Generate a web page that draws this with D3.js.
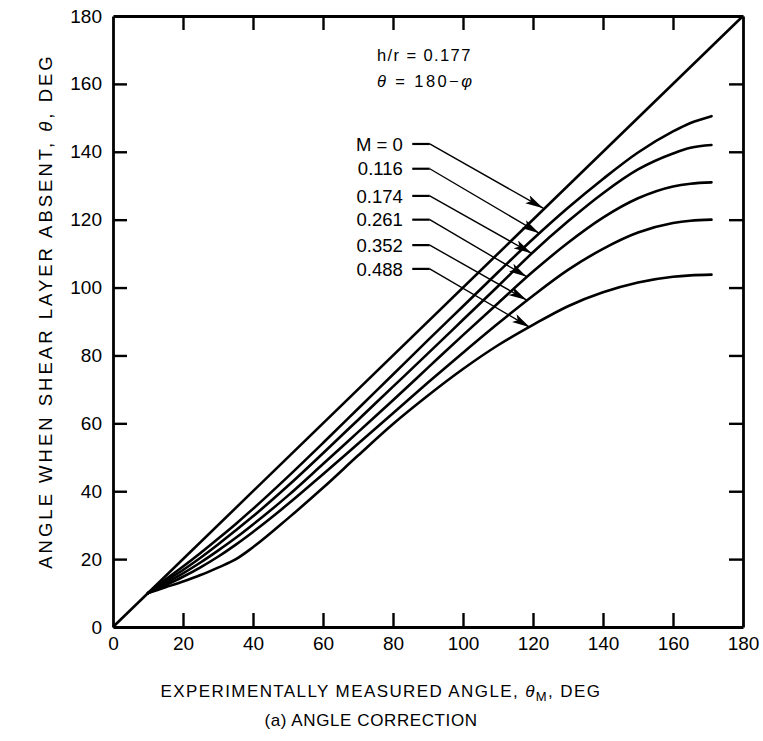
<!DOCTYPE html>
<html><head><meta charset="utf-8">
<script src="https://cdn.jsdelivr.net/npm/d3@7"></script>
<style>
body{margin:0;background:#fff}
text{font-family:"Liberation Sans",Arial,Helvetica,sans-serif;fill:#000}
</style>
</head><body>
<svg id="chart" width="763" height="741"></svg>
<script>
// ---- data ----
const xTicks = [0,20,40,60,80,100,120,140,160,180];
const yTicks = [0,20,40,60,80,100,120,140,160,180];
const thetaM = [10,15,20,25,30,35,40,50,60,70,80,90,100,110,120,130,140,150,160,165,171];
const machLabels = ["M = 0","0.116","0.174","0.261","0.352","0.488"];
const diagX = [0,180];
const diagY = [0,180];
const m116 = [10,14,17.8,21.8,26,30.3,34.8,44.3,54.2,64.3,74.4,84.5,94.5,104.5,114.3,123.5,132,139.8,146,148.5,150.5];
const m174 = [10,13.5,16.8,20.4,24.3,28.4,32.6,41.6,51.2,61,70.8,80.6,90.5,100.4,110.4,119.5,127.8,134.8,139.5,141.2,142];
const m261 = [10,12.9,15.8,19,22.5,26.2,30.2,38.7,48,57.4,66.8,76.4,86,95.4,104.7,113.2,120.6,126.3,129.8,130.6,131];
const m352 = [10,12.3,14.8,17.6,20.7,24.2,28,36.2,45,54,63,72,80.8,89.4,97.6,105.2,111.4,116.2,119,119.7,120];
const m488 = [10,11.7,13.4,15.3,17.5,19.9,23.5,32,41,50.5,59.8,68.2,76,83,89,94.5,98.6,101.5,103.2,103.6,103.8];
// leader annotations (data units)
const leaderLabelY = [142.3,135,127,120,112.5,105.5];
const leaderTipX = [122.9,121.8,119.6,118.2,118.2,119.1];
const leaderTipY = [123.4,116.0,110.1,103.2,96.3,88.3];

// ---- layout ----
const svg = d3.select("#chart");
svg.append("rect").attr("width",763).attr("height",741).attr("fill","#fff");
const L = 113, R = 743, T = 16, B = 627;
const x = d3.scaleLinear().domain([0,180]).range([L,R]);
const y = d3.scaleLinear().domain([0,180]).range([B,T]);

const defs = svg.append("defs");
defs.append("marker").attr("id","arr").attr("markerUnits","userSpaceOnUse")
  .attr("markerWidth",20).attr("markerHeight",10).attr("refX",18).attr("refY",4.5)
  .attr("orient","auto")
  .append("path").attr("d","M0,0 L18,4.5 L0,9 L4,4.5 Z").attr("fill","#000");

const tk = 14;
const fmt = d3.format("d");
const axB = svg.append("g").attr("transform",`translate(0,${B})`)
  .call(d3.axisBottom(x).tickValues(xTicks).tickSizeInner(-tk).tickSizeOuter(0).tickPadding(10).tickFormat(fmt));
const axL = svg.append("g").attr("transform",`translate(${L},0)`)
  .call(d3.axisLeft(y).tickValues(yTicks).tickSizeInner(-tk).tickSizeOuter(0).tickPadding(11).tickFormat(fmt));
const axT = svg.append("g").attr("transform",`translate(0,${T})`)
  .call(d3.axisTop(x).tickValues(xTicks).tickSizeInner(-tk).tickSizeOuter(0).tickFormat(""));
const axR = svg.append("g").attr("transform",`translate(${R},0)`)
  .call(d3.axisRight(y).tickValues(yTicks).tickSizeInner(-tk).tickSizeOuter(0).tickFormat(""));
[axB,axL,axT,axR].forEach(g=>{
  g.selectAll("path.domain").attr("stroke","#000").attr("stroke-width",2.8);
  g.selectAll(".tick line").attr("stroke","#000").attr("stroke-width",2.4);
  g.selectAll(".tick text").attr("font-size",19).attr("fill","#000")
   .style("font-family",'"Liberation Sans",Arial,sans-serif');
  g.selectAll(".tick").filter(d=>d===0||d===180).select("line").remove();
});

// ---- curves ----
const line = d3.line().x(d=>x(d[0])).y(d=>y(d[1])).curve(d3.curveMonotoneX);
const series = [m116,m174,m261,m352,m488];
svg.append("path").attr("d",line(diagX.map((v,i)=>[v,diagY[i]])))
  .attr("fill","none").attr("stroke","#000").attr("stroke-width",2.6);
series.forEach(s=>{
  svg.append("path").attr("d",line(thetaM.map((v,i)=>[v,s[i]])))
    .attr("fill","none").attr("stroke","#000").attr("stroke-width",2.6).attr("stroke-linecap","round");
});

// ---- leader labels ----
const textRight = 82.8, dashL = 85.5, dashR = 90.5;
machLabels.forEach((lab,i)=>{
  svg.append("text").attr("x",x(textRight)).attr("y",y(leaderLabelY[i])).attr("dy","0.36em")
    .attr("text-anchor","end").attr("font-size",18.5).text(lab);
  svg.append("line").attr("x1",x(dashL)).attr("x2",x(dashR))
    .attr("y1",y(leaderLabelY[i])).attr("y2",y(leaderLabelY[i]))
    .attr("stroke","#000").attr("stroke-width",2.2);
  svg.append("line").attr("x1",x(dashR)).attr("y1",y(leaderLabelY[i]))
    .attr("x2",x(leaderTipX[i])).attr("y2",y(leaderTipY[i]))
    .attr("stroke","#000").attr("stroke-width",1.4).attr("marker-end","url(#arr)");
});

// ---- annotations ----
svg.append("text").attr("x",377).attr("y",61).attr("font-size",16.5).attr("letter-spacing",1.4)
  .text("h/r = 0.177");
const ann2 = svg.append("text").attr("x",377).attr("y",87).attr("font-size",16.5).attr("letter-spacing",2.4);
ann2.append("tspan").attr("font-style","italic").text("θ");
ann2.append("tspan").text(" = 180−");
ann2.append("tspan").attr("font-style","italic").text("φ");

// ---- axis titles ----
const xt = svg.append("text").attr("x",381).attr("y",697).attr("text-anchor","middle")
  .attr("font-size",17).attr("letter-spacing",1.4);
xt.append("tspan").text("EXPERIMENTALLY MEASURED ANGLE, ");
xt.append("tspan").attr("font-style","italic").text("θ");
xt.append("tspan").attr("font-size",13).attr("dy",4).text("M");
xt.append("tspan").attr("dy",-4).text(", DEG");
svg.append("text").attr("x",371).attr("y",726).attr("text-anchor","middle").attr("font-size",17)
  .attr("letter-spacing",0.6).text("(a) ANGLE CORRECTION");
const yt = svg.append("text").attr("transform",`translate(52,311) rotate(-90)`)
  .attr("text-anchor","middle").attr("font-size",18.5).attr("letter-spacing",3);
yt.append("tspan").text("ANGLE WHEN SHEAR LAYER ABSENT, ");
yt.append("tspan").attr("font-style","italic").text("θ");
yt.append("tspan").text(", DEG");
</script>
</body></html>
